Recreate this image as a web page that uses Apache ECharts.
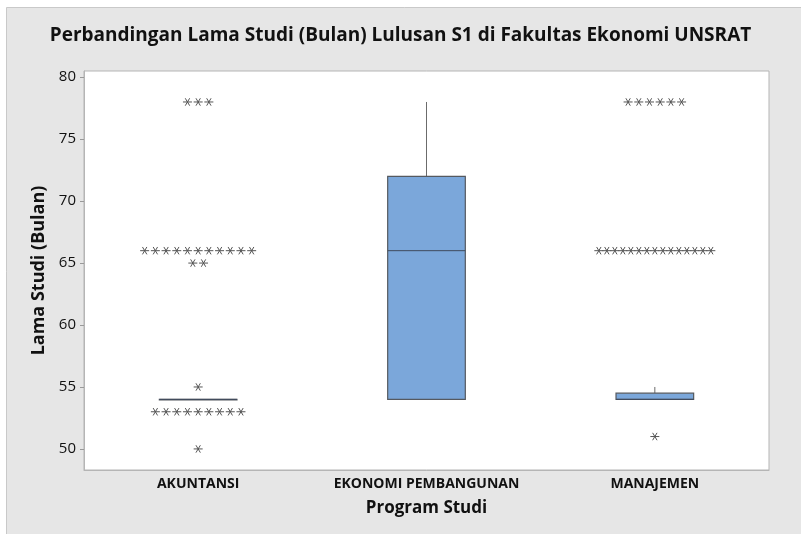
<!DOCTYPE html>
<html>
<head>
<meta charset="utf-8">
<script src="https://cdn.jsdelivr.net/npm/echarts@6/dist/echarts.min.js"></script>
<style>
  html, body { margin: 0; padding: 0; background: #fff; }
  #chart { width: 801px; height: 534px; }
</style>
</head>
<body>
<div id="chart"></div>
<script>
// data
const categories = ['AKUNTANSI', 'EKONOMI PEMBANGUNAN', 'MANAJEMEN'];
const whiskerLow = [54, 54, 54];
const q1 = [54, 54, 54];
const median = [54, 66, 54];
const q3 = [54, 72, 54.5];
const whiskerHigh = [54, 78, 55];
const yTicks = [50, 55, 60, 65, 70, 75, 80];

// outliers (asterisks), one array per program
const akuntansiOutliers = [78, 78, 78, 66, 66, 66, 66, 66, 66, 66, 66, 66, 66, 66, 65, 65, 55, 53, 53, 53, 53, 53, 53, 53, 53, 53, 50];
const ekonomiOutliers = [];
const manajemenOutliers = [78, 78, 78, 78, 78, 78, 66, 66, 66, 66, 66, 66, 66, 66, 66, 66, 66, 66, 66, 66, 66, 51];

const outlierLists = [akuntansiOutliers, ekonomiOutliers, manajemenOutliers];

// group equal values -> [catIndex, value, count]
const outlierData = [];
outlierLists.forEach(function (list, ci) {
  const counts = {};
  list.forEach(function (v) { counts[v] = (counts[v] || 0) + 1; });
  Object.keys(counts).forEach(function (v) {
    outlierData.push([ci, Number(v), counts[v]]);
  });
});

const boxData = categories.map(function (c, i) {
  return [i, whiskerLow[i], q1[i], median[i], q3[i], whiskerHigh[i]];
});

const chart = echarts.init(document.getElementById('chart'));

function renderBox(params, api) {
  const ci = api.value(0);
  const bw = api.size([1, 0])[0] * 0.34;
  const pLow = api.coord([ci, api.value(1)]);
  const pQ1 = api.coord([ci, api.value(2)]);
  const pMed = api.coord([ci, api.value(3)]);
  const pQ3 = api.coord([ci, api.value(4)]);
  const pHigh = api.coord([ci, api.value(5)]);
  const cx = pQ1[0];
  const children = [];
  const lineStyle = { stroke: '#6b6b6b', lineWidth: 1 };
  if (pHigh[1] < pQ3[1]) {
    children.push({ type: 'line', shape: { x1: cx, y1: pHigh[1], x2: cx, y2: pQ3[1] }, style: lineStyle });
  }
  if (pLow[1] > pQ1[1]) {
    children.push({ type: 'line', shape: { x1: cx, y1: pQ1[1], x2: cx, y2: pLow[1] }, style: lineStyle });
  }
  children.push({
    type: 'rect',
    shape: { x: cx - bw / 2, y: pQ3[1], width: bw, height: Math.max(pQ1[1] - pQ3[1], 0.5) },
    style: { fill: '#7ba7da', stroke: '#55595f', lineWidth: 1.2 }
  });
  children.push({
    type: 'line',
    shape: { x1: cx - bw / 2, y1: pMed[1], x2: cx + bw / 2, y2: pMed[1] },
    style: { stroke: '#3f4a5c', lineWidth: 1 }
  });
  return { type: 'group', children: children };
}

function renderStars(params, api) {
  const ci = api.value(0);
  const n = api.value(2);
  const p = api.coord([ci, api.value(1)]);
  const step = n > 1 ? Math.min(10.7, 112 / (n - 1)) : 0;
  const children = [];
  const st = { stroke: '#555', lineWidth: 1 };
  for (let i = 0; i < n; i++) {
    const x = p[0] + (i - (n - 1) / 2) * step;
    const y = p[1];
    children.push({ type: 'line', shape: { x1: x - 4.5, y1: y, x2: x + 4.5, y2: y }, style: st });
    children.push({ type: 'line', shape: { x1: x - 2.2, y1: y - 3.7, x2: x + 2.2, y2: y + 3.7 }, style: st });
    children.push({ type: 'line', shape: { x1: x + 2.2, y1: y - 3.7, x2: x - 2.2, y2: y + 3.7 }, style: st });
  }
  return { type: 'group', children: children };
}

const font = "'Open Sans', 'Noto Sans', sans-serif";

const option = {
  backgroundColor: '#fff',
  animation: false,
  graphic: [{
    type: 'rect',
    z: -10,
    shape: { x: 6.5, y: 7.5, width: 800, height: 530 },
    style: { fill: '#e6e6e6', stroke: '#c9c9c9', lineWidth: 1 }
  }],
  title: {
    text: 'Perbandingan Lama Studi (Bulan) Lulusan S1 di Fakultas Ekonomi UNSRAT',
    left: 'center',
    top: 21,
    textStyle: { fontFamily: font, fontSize: 19, fontWeight: 'bold', color: '#111' }
  },
  grid: {
    left: 84, top: 71, right: 32, bottom: 64,
    show: true, backgroundColor: '#fff', borderColor: '#b5b5b5', borderWidth: 1
  },
  xAxis: {
    type: 'category',
    data: categories,
    boundaryGap: true,
    name: 'Program Studi',
    nameLocation: 'middle',
    nameGap: 30,
    nameTextStyle: { fontFamily: font, fontSize: 17, fontWeight: 'bold', color: '#111' },
    axisLine: { lineStyle: { color: '#b5b5b5' } },
    axisTick: { alignWithLabel: true, length: 4, lineStyle: { color: '#999' } },
    axisLabel: { interval: 0, fontFamily: font, fontSize: 14, fontWeight: 'bold', color: '#111', margin: 7 },
    splitLine: { show: false }
  },
  yAxis: {
    type: 'value',
    min: 48.3,
    max: 80.5,
    name: 'Lama Studi (Bulan)',
    nameLocation: 'middle',
    nameGap: 35,
    nameTextStyle: { fontFamily: font, fontSize: 18, fontWeight: 'bold', color: '#111' },
    axisLine: { show: true, lineStyle: { color: '#b5b5b5' } },
    axisTick: { show: true, length: 4, customValues: yTicks, lineStyle: { color: '#999' } },
    axisLabel: { fontFamily: font, fontSize: 15, color: '#111', margin: 8, customValues: yTicks },
    splitLine: { show: false }
  },
  series: [
    {
      type: 'custom',
      renderItem: renderBox,
      data: boxData,
      encode: { x: 0, y: [1, 2, 3, 4, 5] },
      z: 2
    },
    {
      type: 'custom',
      renderItem: renderStars,
      data: outlierData,
      encode: { x: 0, y: 1 },
      z: 3
    }
  ]
};

chart.setOption(option);
</script>
</body>
</html>
